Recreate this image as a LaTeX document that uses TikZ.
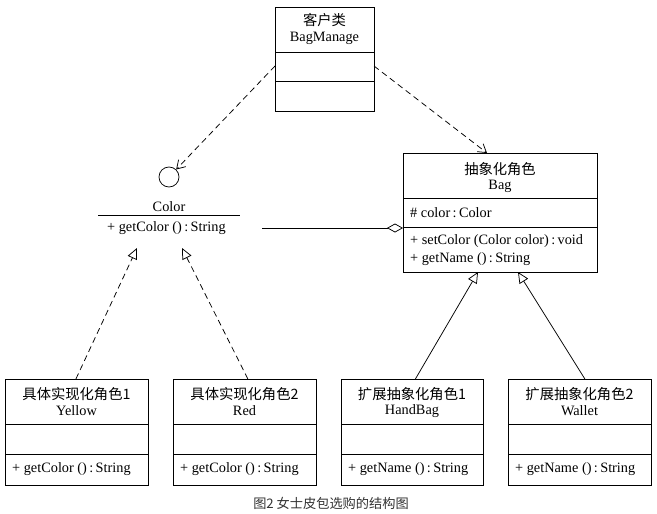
\documentclass[tikz,border=0pt]{standalone}
\usepackage{fontspec}
\setmainfont{Liberation Serif}
\newfontfamily\cjk{Noto Sans CJK SC}
\usetikzlibrary{arrows.meta}
\newcommand{\cl}{\,:\,}
\begin{document}
\begin{tikzpicture}[x=1pt,y=-1pt,
  txt/.style={inner sep=0pt,font=\fontsize{14.3}{16}\selectfont},
  boxframe/.style={draw,line width=0.8pt,inner sep=0pt,anchor=north west},
  divider/.style={line width=0.8pt},
  depend/.style={dashed,line width=0.75pt,dash pattern=on 6pt off 4pt,-{Straight Barb[length=8pt,width=10pt]}},
  realize/.style={dashed,line width=0.75pt,dash pattern=on 6pt off 4pt,-{Triangle[open,length=11pt,width=10pt]}},
  inherit/.style={line width=0.75pt,-{Triangle[open,length=11pt,width=10pt]}},
  aggreg/.style={line width=0.75pt,-{Diamond[open,length=16pt,width=9pt]}}]
\useasboundingbox (0,0) rectangle (657,514);
\fill[white] (0,0) rectangle (657,514);

% client class
\node[boxframe,minimum width=99pt,minimum height=104pt] (bm) at (275,7) {};
\draw[divider] (275,52) -- (374,52);
\draw[divider] (275,81) -- (374,81);
\node[txt] (bmt1) at (324.5,20) {\cjk 客户类};
\node[txt] (bmt2) at (324.5,38) {BagManage};

% Color interface
\node[draw,circle,line width=0.75pt,minimum size=20pt,inner sep=0pt] (ci) at (169,177) {};
\node[txt] (cname) at (169,207) {Color};
\draw[divider] (98,215) -- (240,215);
\node[txt,anchor=west] (cop) at (107,228) {+ getColor ()\cl String};

% abstraction Bag
\node[boxframe,minimum width=194pt,minimum height=119pt] (bag) at (403,153) {};
\draw[divider] (403,198) -- (597,198);
\draw[divider] (403,227) -- (597,227);
\node[txt] (bagt1) at (500,169) {\cjk 抽象化角色};
\node[txt] (bagt2) at (500,186) {Bag};
\node[txt,anchor=west] (bagattr) at (410,213) {\# color\cl Color};
\node[txt,anchor=west] (bagop1) at (410,241) {+ setColor (Color color)\cl void};
\node[txt,anchor=west] (bagop2) at (410,259) {+ getName ()\cl String};

% concrete classes
\foreach \nm/\x/\w/\ta/\tb/\op in {
  yel/5/143/具体实现化角色1/Yellow/getColor,
  red/173/143/具体实现化角色2/Red/getColor,
  hb/341/142/扩展抽象化角色1/HandBag/getName,
  wal/508/143/扩展抽象化角色2/Wallet/getName}{
  \node[boxframe,minimum width=\w pt,minimum height=106pt] (\nm) at (\x,379) {};
  \draw[divider] (\x,424) -- ++(\w,0);
  \draw[divider] (\x,454) -- ++(\w,0);
  \node[txt] (\nm t1) at (\x+\w/2,394) {\cjk\ta};
  \node[txt] (\nm t2) at (\x+\w/2,411) {\tb};
  \node[txt,anchor=west] (\nm op) at (\x+7,469) {+ \op\ ()\cl String};
}

% connectors
\coordinate (bmL) at (275,66);
\coordinate (bmR) at (374,66);
\draw[depend] (bmL) -- (ci);
\draw[depend] (bmR) -- (487,153);
\coordinate (cend) at (262,228);
\coordinate (bagL) at (403,228);
\draw[aggreg] (cend) -- (bagL);
\coordinate (yTip) at (137,248);
\coordinate (rTip) at (182,248);
\draw[realize] ([xshift=-1pt]yel.north) -- (yTip);
\draw[realize] ([xshift=3pt]red.north) -- (rTip);
\draw[inherit] ([xshift=3pt]hb.north) -- (478,272);
\draw[inherit] ([xshift=5pt]wal.north) -- (518,272);

% caption
\node[inner sep=0pt,text=black!80,font=\cjk\fontsize{13.2}{15}\selectfont] (cap) at (331,503) {图2 女士皮包选购的结构图};
\end{tikzpicture}
\end{document}
